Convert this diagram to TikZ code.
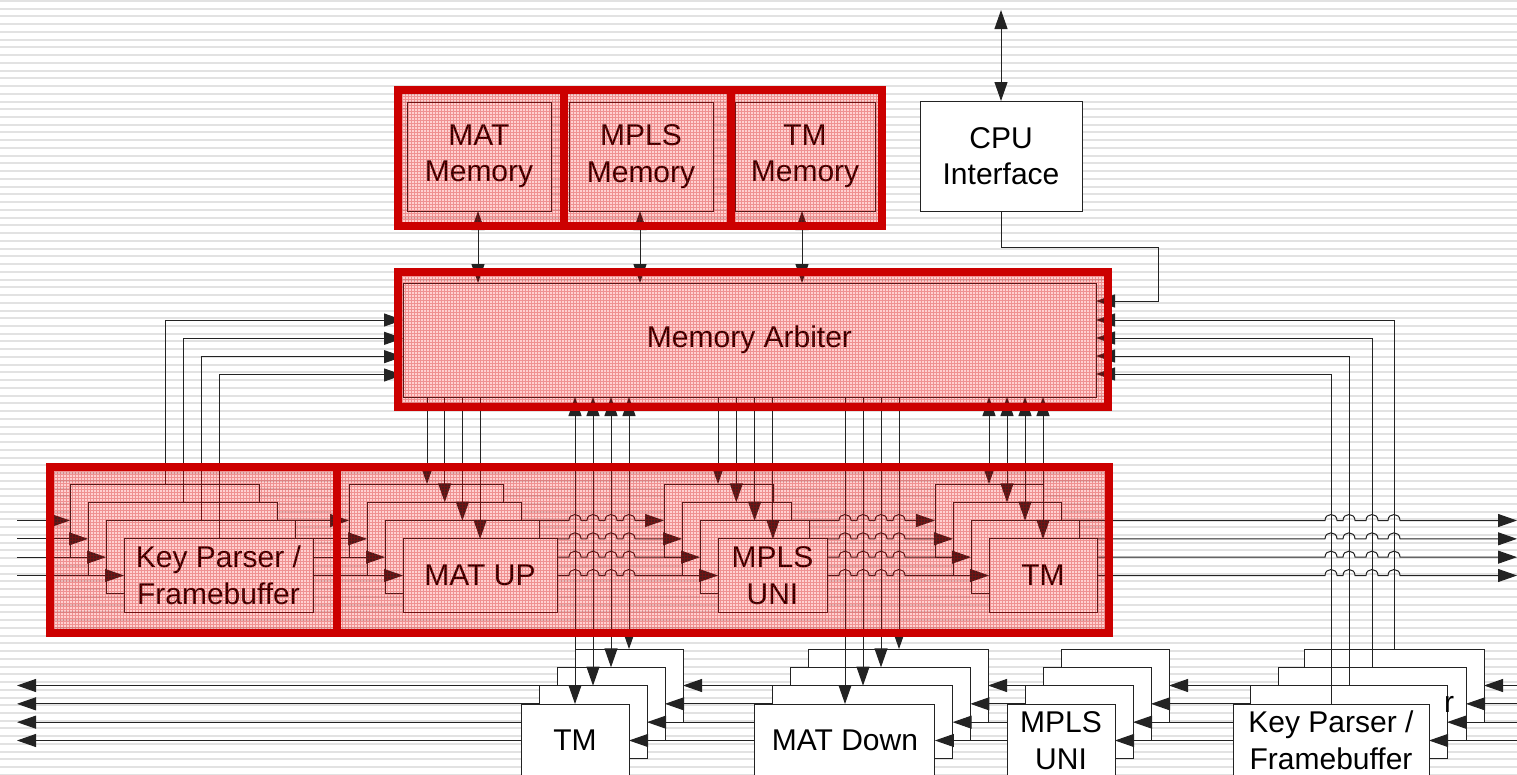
\documentclass[tikz,border=0pt]{standalone}
\usepackage{fontspec}
\setmainfont{Liberation Sans}
\usetikzlibrary{arrows.meta}

\definecolor{hired}{RGB}{204,0,0}
\definecolor{stripegray}{RGB}{226,226,226}
\definecolor{ink}{RGB}{35,35,35}
\newcommand\blkfont{\fontsize{30}{36.5}\selectfont}

\tikzset{
  blk/.style={draw=ink,line width=1pt,fill=white,inner sep=0pt,outer sep=0pt,
              anchor=north west,minimum height=73pt},
  lbl/.style={font=\blkfont,align=center,inner sep=0pt},
  wire/.style={draw=ink,line width=1pt},
  tip/.style={-{Triangle[length=19pt,width=13pt]}},
  dtip/.style={{Triangle[length=19pt,width=13pt]}-{Triangle[length=19pt,width=13pt]}},
  hifill/.style={fill=red,fill opacity=0.18},
  higrid/.style={draw=hired,draw opacity=0.3,line width=0.6pt,step=3pt},
  hiedge/.style={draw=hired,line width=8pt}
}

\begin{document}
\begin{tikzpicture}[x=1pt,y=-1pt]
\useasboundingbox (0,0) rectangle (1517,774);
\clip (0,0) rectangle (1517,774);

% striped backdrop
\fill[white] (0,0) rectangle (1517,774);
\foreach \i in {0,...,100}
  \draw[stripegray,line width=2pt] (0,7.74*\i+0.9) -- (1517,7.74*\i+0.9);

% memories, CPU interface and arbiter
\node[blk,minimum width=144pt,minimum height=109pt] (matm) at (407,102) {};
\node[blk,minimum width=144pt,minimum height=109pt] (mplsm) at (569,102) {};
\node[blk,minimum width=140pt,minimum height=109pt] (tmm) at (735,102) {};
\node[lbl] (matmtxt) at (matm.center) {MAT\\Memory};
\node[lbl] (mplsmtxt) at (mplsm.center) {MPLS\\Memory};
\node[lbl] (tmmtxt) at (tmm.center) {TM\\Memory};

\node[blk,minimum width=162pt,minimum height=110pt] (cpu) at (920,101) {};
\node[lbl] (cputxt) at (cpu.center) {CPU\\Interface};
\coordinate (cpuext) at (1001,10);
\draw[wire,dtip] (cpuext) -- (cpu.north);

\node[blk,minimum width=693pt,minimum height=114pt] (arb) at (403,283) {};
\node[lbl] (arbtxt) at (arb.center) {Memory Arbiter};

\foreach \m/\x in {matm/478,mplsm/640,tmm/802}
  \draw[wire,dtip] (\x,0 |- \m.south) -- (\x,0 |- arb.north);

\draw[wire,tip] (cpu.south) |- (1158,247) |- (arb.east |- 0,301);

% upper pipeline: stacked blocks, back to front
\foreach \k in {0,1,2,3}{
  \pgfmathsetmacro\ty{484+18.33*\k}
  \pgfmathsetmacro\dx{18*\k}
  \pgfmathsetmacro\my{\ty+36.5}
  \node[blk,minimum width=189pt] (kpT\k) at (70+\dx,\ty) {};
  \node[blk,minimum width=154pt] (matT\k) at (349+\dx,\ty) {};
  \node[blk,minimum width=109pt] (mplsT\k) at (664+\dx,\ty) {};
  \node[blk,minimum width=108pt] (tmT\k) at (935+\dx,\ty) {};
  % data path
  \draw[wire,tip] (17,\my) -- (kpT\k.west);
  \draw[wire,tip] (kpT\k.east) -- (matT\k.west);
  \draw[wire,tip] (matT\k.east)
    foreach \v in {575,593,611,629}{ -- (\v-6,\my) .. controls (\v-6,\my-8) and (\v+6,\my-8) .. (\v+6,\my)}
    -- (mplsT\k.west);
  \draw[wire,tip] (mplsT\k.east)
    foreach \v in {845,863,881,899}{ -- (\v-6,\my) .. controls (\v-6,\my-8) and (\v+6,\my-8) .. (\v+6,\my)}
    -- (tmT\k.west);
  \draw[wire,tip] (tmT\k.east)
    foreach \v in {1331,1349,1372,1394}{ -- (\v-6,\my) .. controls (\v-6,\my-8) and (\v+6,\my-8) .. (\v+6,\my)}
    -- (1517,\my);
  % memory requests and replies
  \draw[wire,tip] (165+\dx,0 |- kpT\k.north) |- (arb.west |- 0,320+18.33*\k);
  \draw[wire,tip] (427+17.7*\k,0 |- arb.south) -- (427+17.7*\k,0 |- matT\k.north);
  \draw[wire,tip] (718+18.3*\k,0 |- arb.south) -- (718+18.3*\k,0 |- mplsT\k.north);
  \draw[wire,dtip] (989+\dx,0 |- arb.south) -- (989+\dx,0 |- tmT\k.north);
}
\node[lbl] (kpTtxt) at (kpT3.center) {Key Parser /\\Framebuffer};
\node[lbl] (matTtxt) at (matT3.center) {MAT UP};
\node[lbl] (mplsTtxt) at (mplsT3.center) {MPLS\\UNI};
\node[lbl] (tmTtxt) at (tmT3.center) {TM};

% lower pipeline: stacked blocks, back to front
\foreach \k/\kl/\kw/\kv in {0/1304/180/1394,1/1278/188/1372,2/1250/197/1349,3/1233/196/1331}{
  \pgfmathsetmacro\by{649+18.33*\k}
  \pgfmathsetmacro\bx{18*\k}
  \pgfmathsetmacro\bm{\by+36.5}
  \node[blk,minimum width=108pt] (tmB\k) at (575-\bx,\by) {};
  \node[blk,minimum width=180pt] (mdB\k) at (808-17.7*\k,\by) {};
  \node[blk,minimum width=108pt] (mplsB\k) at (1061-\bx,\by) {};
  \node[blk,minimum width=\kw pt] (kpB\k) at (\kl,\by) {};
  % data path
  \draw[wire,tip] (1517,\bm) -- (kpB\k.east);
  \draw[wire,tip] (kpB\k.west) -- (mplsB\k.east);
  \draw[wire,tip] (mplsB\k.west) -- (mdB\k.east);
  \draw[wire,tip] (mdB\k.west) -- (tmB\k.east);
  \draw[wire,tip] (tmB\k.west) -- (17,\bm);
  % memory requests and replies
  \draw[wire,dtip] (629-\bx,0 |- arb.south) -- (629-\bx,0 |- tmB\k.north);
  \draw[wire,tip] (899-\bx,0 |- arb.south) -- (899-\bx,0 |- mdB\k.north);
  \draw[wire,tip] (\kv,0 |- kpB\k.north) |- (arb.east |- 0,320+18*\k);
}
\node[font=\blkfont,anchor=base west,inner sep=0pt] (kpBr) at (1444,712) {r};
\node[lbl] (tmBtxt) at (tmB3.center) {TM};
\node[lbl] (mdBtxt) at (mdB3.center) {MAT Down};
\node[lbl] (mplsBtxt) at (mplsB3.center) {MPLS\\UNI};
\node[lbl] (kpBtxt) at (kpB3.center) {Key Parser /\\Framebuffer};

% red highlight over the memory subsystem and the upper pipeline
\foreach \a/\b/\c/\d in {398/90/564/226,564/90/731/226,731/90/882/226,
                         398/272/1108/407,50/467/337/633,337/467/1109/633}{
  \fill[hifill] (\a,\b) rectangle (\c,\d);
  \draw[higrid] (\a,\b) grid (\c,\d);
}
\foreach \a/\b/\c/\d in {398/90/564/226,564/90/731/226,731/90/882/226,
                         398/272/1108/407,50/467/337/633,337/467/1109/633}
  \draw[hiedge] (\a,\b) rectangle (\c,\d);
\end{tikzpicture}
\end{document}
